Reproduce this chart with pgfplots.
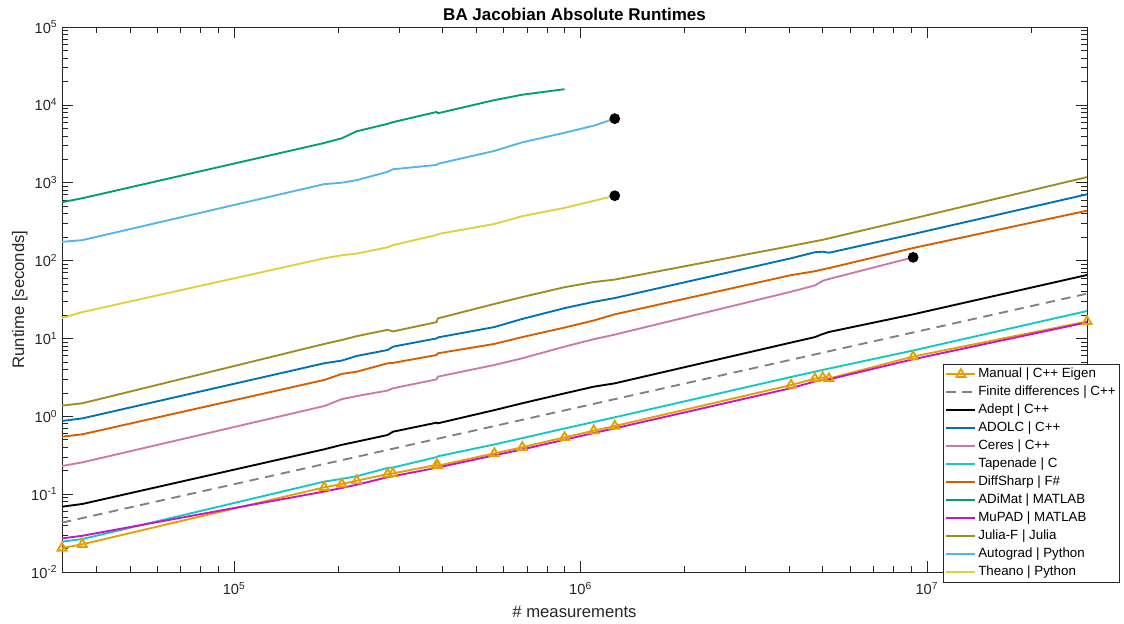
\documentclass[border=0pt]{standalone}
\usepackage{pgfplots}
\pgfplotsset{compat=1.18}
\usepackage{fontspec}
\setmainfont{Liberation Sans}
\usetikzlibrary{calc}
\definecolor{cManual}{HTML}{E69F00}
\definecolor{cFD}{HTML}{808080}
\definecolor{cADOLC}{HTML}{0072B2}
\definecolor{cCeres}{HTML}{CC79A7}
\definecolor{cTap}{HTML}{11C8C8}
\definecolor{cDiff}{HTML}{D55E00}
\definecolor{cADiMat}{HTML}{009E73}
\definecolor{cMuPAD}{HTML}{CC11CC}
\definecolor{cJulia}{HTML}{A08C20}
\definecolor{cAuto}{HTML}{56B4E9}
\definecolor{cTheano}{HTML}{E0D040}
\definecolor{axgray}{HTML}{262626}
\begin{document}
\begin{tikzpicture}
\begin{axis}[
  scale only axis, width=768.75pt, height=408.75pt,
  xmode=log, ymode=log,
  xmin=31843, xmax=28987644, ymin=1e-2, ymax=1e5,
  clip=false,
  xtick={1e5,1e6,1e7},
  xticklabels={10\textsuperscript{5},10\textsuperscript{6},10\textsuperscript{7}},
  ytick={1e-2,1e-1,1,10,100,1000,1e4,1e5},
  yticklabels={10\textsuperscript{-2},10\textsuperscript{-1},10\textsuperscript{0},10\textsuperscript{1},10\textsuperscript{2},10\textsuperscript{3},10\textsuperscript{4},10\textsuperscript{5}},
  minor xtick={40000,50000,60000,70000,80000,90000,200000,300000,400000,500000,600000,700000,800000,900000,2000000,3000000,4000000,5000000,6000000,7000000,8000000,9000000,20000000},
  minor ytick={0.02,0.03,0.04,0.05,0.06,0.07,0.08,0.09,0.2,0.3,0.4,0.5,0.6,0.7,0.8,0.9,2,3,4,5,6,7,8,9,20,30,40,50,60,70,80,90,200,300,400,500,600,700,800,900,2000,3000,4000,5000,6000,7000,8000,9000,20000,30000,40000,50000,60000,70000,80000,90000},
  major tick length=8pt, minor tick length=4.5pt,
  tick align=inside,
  every tick/.style={axgray, line width=0.5pt},
  axis line style={axgray, line width=0.6pt},
  tick label style={font=\fontsize{11}{13}\selectfont, text=axgray},
  xticklabel style={yshift=-4pt},
  title={BA Jacobian Absolute Runtimes},
  every axis title shift=0pt,
  title style={font=\fontsize{12.75}{15}\selectfont\bfseries, at={(axis description cs:0.5,1.0128)}, anchor=base},
  xlabel={\# measurements},
  xlabel style={font=\fontsize{12.5}{15}\selectfont, text=axgray, at={(axis description cs:0.5,-0.0826)}, anchor=base},
  ylabel={Runtime [seconds]},
  ylabel style={font=\fontsize{12.5}{15}\selectfont, text=axgray, at={(axis description cs:-0.037,0.5)}, anchor=base, rotate=0},
  legend style={at={(axis description cs:1.0322,-0.0202)}, anchor=south east,
    font=\fontsize{10}{12}\selectfont, draw=axgray, line width=0.5pt,
    inner xsep=1.5pt, inner ysep=1pt,
    nodes={text height=7.5pt, text depth=2.5pt, inner ysep=1.75pt, inner xsep=1.5pt}},
  legend cell align=left,
  legend image code/.code={\draw[mark repeat=2,mark phase=2,#1] plot coordinates {(0pt,0pt) (10.9pt,0pt) (21.8pt,0pt)};},
  every axis plot/.append style={line width=1.4pt},
]
% Manual
\addplot[cManual, mark=triangle, mark size=3.9pt, mark options={solid}] coordinates {
(31843,0.0203) (36455,0.0227) (182072,0.1225) (204472,0.135) (225911,0.149) (277273,0.181) (287451,0.185) (383937,0.237) (387371,0.232) (563734,0.334) (678718,0.40) (899155,0.537) (1091386,0.653) (1255268,0.75) (4052340,2.52) (4750193,3.05) (5001946,3.15) (5213733,3.05) (9125125,5.85) (28987644,16.5)};
\addlegendentry{Manual | C++ Eigen}
% Finite differences
\addplot[cFD, dash pattern=on 7pt off 5pt] coordinates {
(31843,0.0431) (36455,0.0493) (182072,0.2436) (204472,0.2734) (225911,0.3018) (277273,0.370) (287451,0.3836) (383937,0.5114) (387371,0.516) (563734,0.749) (678718,0.901) (899155,1.192) (1091386,1.444) (1255268,1.660) (4052340,5.32) (4750193,6.23) (5001946,6.56) (5213733,6.84) (9125125,11.93) (28987644,37.6)};
\addlegendentry{Finite differences | C++}
% Adept
\addplot[black] coordinates {
(31843,0.069) (36455,0.0748) (182072,0.377) (204472,0.43) (225911,0.472) (277273,0.575) (287451,0.634) (383937,0.828) (387371,0.813) (563734,1.2) (678718,1.47) (899155,1.97) (1091386,2.4) (1255268,2.65) (4052340,8.85) (4750193,10.4) (5001946,11.4) (5213733,12.1) (9125125,20.4) (28987644,65.3)};
\addlegendentry{Adept | C++}
% ADOLC
\addplot[cADOLC] coordinates {
(31843,0.87) (36455,0.94) (182072,4.8) (204472,5.19) (225911,5.96) (277273,7.1) (287451,7.84) (383937,10) (387371,10.3) (563734,14) (678718,17.8) (899155,24.5) (1091386,29.5) (1255268,33) (4052340,107) (4750193,128) (5001946,130) (5213733,126) (9125125,219) (28987644,710)};
\addlegendentry{ADOLC | C++}
% Ceres
\addplot[cCeres] coordinates {
(31843,0.23) (36455,0.256) (182072,1.355) (204472,1.66) (225911,1.82) (277273,2.14) (287451,2.29) (383937,2.98) (387371,3.23) (563734,4.56) (678718,5.56) (899155,7.84) (1091386,9.77) (1255268,11.2) (4052340,39.8) (4750193,48) (5001946,55) (5213733,58) (9125125,110)};
\addlegendentry{Ceres | C++}
% Tapenade
\addplot[cTap] coordinates {
(31843,0.0245) (36455,0.0265) (182072,0.145) (204472,0.157) (225911,0.170) (277273,0.217) (287451,0.220) (383937,0.299) (387371,0.306) (563734,0.435) (678718,0.524) (899155,0.697) (1091386,0.845) (1255268,0.97) (4052340,3.2) (4750193,3.74) (5001946,3.94) (5213733,4.1) (9125125,7.0) (28987644,22.5)};
\addlegendentry{Tapenade | C}
% DiffSharp
\addplot[cDiff] coordinates {
(31843,0.547) (36455,0.587) (182072,2.93) (204472,3.5) (225911,3.74) (277273,4.79) (287451,4.85) (383937,6.12) (387371,6.44) (563734,8.5) (678718,10.4) (899155,13.8) (1091386,17) (1255268,20.4) (4052340,65) (4750193,73) (5001946,77) (5213733,80) (9125125,145) (28987644,437)};
\addlegendentry{DiffSharp | F\#}
% ADiMat
\addplot[cADiMat] coordinates {
(31843,562) (36455,632) (182072,3240) (204472,3720) (225911,4580) (277273,5700) (287451,6000) (383937,8100) (387371,7800) (563734,11500) (678718,13500) (899155,15900)};
\addlegendentry{ADiMat | MATLAB}
% MuPAD
\addplot[cMuPAD] coordinates {
(31843,0.0270) (36455,0.0292) (182072,0.108) (204472,0.120) (225911,0.132) (277273,0.165) (287451,0.170) (383937,0.218) (387371,0.220) (563734,0.315) (678718,0.375) (899155,0.50) (1091386,0.61) (1255268,0.70) (4052340,2.30) (4750193,2.80) (5001946,2.95) (5213733,2.98) (9125125,5.4) (28987644,16.1)};
\addlegendentry{MuPAD | MATLAB}
% Julia-F
\addplot[cJulia] coordinates {
(31843,1.37) (36455,1.47) (182072,8.5) (204472,9.55) (225911,10.7) (277273,12.9) (287451,12.3) (383937,16.2) (387371,18.1) (563734,27.7) (678718,34) (899155,45.5) (1091386,53) (1255268,57) (4052340,154) (4750193,177) (5001946,185) (5213733,193) (9125125,347) (28987644,1180)};
\addlegendentry{Julia-F | Julia}
% Autograd
\addplot[cAuto] coordinates {
(31843,174) (36455,183) (182072,960) (204472,1000) (225911,1080) (277273,1380) (287451,1490) (383937,1690) (387371,1750) (563734,2560) (678718,3300) (899155,4380) (1091386,5400) (1255268,6650)};
\addlegendentry{Autograd | Python}
% Theano
\addplot[cTheano] coordinates {
(31843,18.3) (36455,21.8) (182072,107) (204472,117) (225911,123) (277273,148) (287451,158) (383937,213) (387371,219) (563734,295) (678718,372) (899155,475) (1091386,585) (1255268,681)};
\addlegendentry{Theano | Python}
% end markers
\addplot[black, only marks, mark=*, mark size=3.3pt, forget plot] coordinates {
(1255268,6650) (1255268,681) (9125125,110)};
\end{axis}
\pgfresetboundingbox
\useasboundingbox ($(current axis.south west)+(-46.5pt,-39pt)$) rectangle ($(current axis.north east)+(27.75pt,20.25pt)$);
\end{tikzpicture}
\end{document}
